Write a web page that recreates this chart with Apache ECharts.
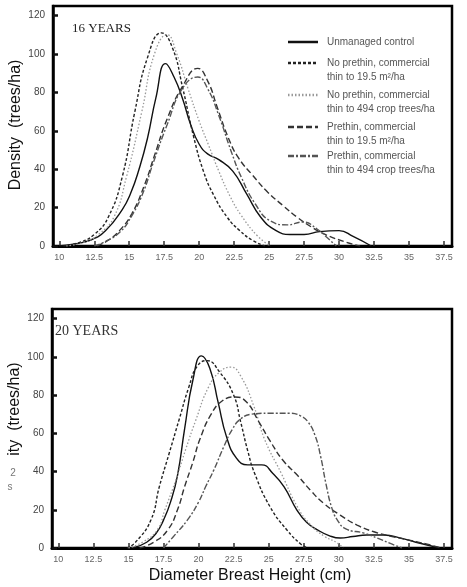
<!DOCTYPE html>
<html>
<head>
<meta charset="utf-8">
<script src="https://cdn.jsdelivr.net/npm/echarts@6/dist/echarts.min.js"></script>
<style>
  html, body { margin: 0; padding: 0; background: #fff; }
  #main { width: 467px; height: 587px; }
</style>
</head>
<body>
<div id="main"></div>
<script>
const seriesNames = [
  'Unmanaged control',
  'No prethin, commercial\nthin to 19.5 m²/ha',
  'No prethin, commercial\nthin to 494 crop trees/ha',
  'Prethin, commercial\nthin to 19.5 m²/ha',
  'Prethin, commercial\nthin to 494 crop trees/ha'
]
const xTicks = [10, 12.5, 15, 17.5, 20, 22.5, 25, 27.5, 30, 32.5, 35, 37.5]
const yTicks = [0, 20, 40, 60, 80, 100, 120]

// 16 years  [dbh, density]
const y16Control = [[10,0],[11,1],[12.2,3],[13.3,8],[14.5,19],[15.1,27.5],[15.7,40],[16.3,56],[16.9,77],[17.6,95],[18.2,88],[18.8,77],[19.4,63],[20,53],[20.6,48],[21.4,45],[22.4,39],[23.4,27],[24.4,15],[25.5,8],[26.5,6],[27.5,6],[28.6,7.5],[30,8],[31,5],[32.3,0]]
const y16NoPre195 = [[10.3,0],[11.5,2],[12.5,6],[13.5,15],[14.5,36],[15.4,70],[16.3,98],[17.3,111],[18.1,103],[18.8,83],[19.6,57],[20.3,39],[21,27],[22,15],[22.9,8],[23.8,3],[24.7,0]]
const y16NoPre494 = [[10.5,0],[11.8,2],[12.8,6],[13.9,15],[14.8,36],[15.9,70],[16.8,100],[17.7,110],[18.4,100],[19.2,82],[20,65],[20.7,52],[21.4,39],[22.2,26],[23,16],[24.2,5],[25.1,0]]
const y16Pre195 = [[12.7,0],[13.5,3],[14.3,8],[15.2,17],[16.1,32],[16.8,47],[17.7,66],[18.8,83],[19.9,92.5],[20.6,86],[21.3,72],[22.1,56],[22.8,46],[23.8,37],[24.9,28],[26,21],[27,15],[28,10],[29,6],[30.5,2],[31.5,0]]
const y16Pre494 = [[12.5,0],[13.2,2],[14.3,7],[15.2,16],[16,28],[16.7,43],[17.7,63],[18.8,82],[19.9,88],[20.6,82],[21.4,68],[22.3,49],[23,36],[24,22],[25.1,13],[26.3,11],[27.4,12.5],[28.4,9],[29.2,4],[29.8,0]]

// 20 years  [dbh, density]
const y20Control = [[15.3,0],[16.3,3],[17,8],[17.5,14.6],[18,24],[18.5,38],[19,62],[19.6,88],[20.2,100.5],[20.8,94],[21.4,76],[22,58],[22.7,47],[23.5,43.5],[24.5,43.5],[25.3,39],[26.1,32],[27,20],[27.7,13.5],[28.5,9.4],[29.3,6.5],[30.1,5.2],[31,6],[32,6.8],[33.2,6.8],[34.5,5],[35.5,3],[37.2,0]]
const y20NoPre195 = [[14.9,0],[15.5,3],[16.6,14.6],[17.2,32],[17.9,49.4],[18.6,66.8],[19.3,84],[19.9,95],[20.6,98],[21.5,92],[22.5,80],[23,66],[23.5,51],[24,39],[25.1,21.5],[26.3,9.4],[27.3,2],[27.8,0]]
const y20NoPre494 = [[15,0],[16,3],[17.05,9.4],[17.6,20],[18.4,36],[19.1,52],[19.8,66.8],[20.7,84],[21.5,92],[22.3,94.6],[23,90],[23.95,74],[24.7,57],[25.9,39],[27.05,21.5],[28,12],[29,6],[29.9,2.6],[30.3,0]]
const y20Pre195 = [[15.8,0],[16.8,3],[17.8,9.4],[18.5,20],[19,32],[19.6,45],[20.1,57],[20.9,70],[21.7,77],[22.6,79],[23.4,76.5],[24.3,66],[25.1,56],[26,46],[27.05,38],[28,30],[28.9,23.5],[30.1,17.2],[31.3,12],[32.5,8.5],[33.8,6],[35.1,4],[36.3,2],[37.3,0]]
const y20Pre494 = [[17.5,0],[18.2,5.9],[19.2,14.6],[20,24],[20.5,32],[21.1,41],[21.8,53],[22.4,62],[23,67.5],[23.8,70],[25,70.5],[26.5,70.5],[27.3,69],[27.8,66],[28.3,59],[28.7,48],[29.1,33],[29.5,21],[29.9,14.6],[30.5,10],[31.8,7.8],[32.8,5],[33.8,2],[34.5,0]]

const data16 = [y16Control, y16NoPre195, y16NoPre494, y16Pre195, y16Pre494]
const data20 = [y20Control, y20NoPre195, y20NoPre494, y20Pre195, y20Pre494]

const lineStyles = [
  { color: '#111', type: 'solid', width: 1.4 },
  { color: '#222', type: [3, 2], width: 1.4 },
  { color: '#999', type: [1.5, 2], width: 1.3 },
  { color: '#333', type: [6, 3], width: 1.4 },
  { color: '#555', type: [6, 2, 2, 2], width: 1.4 }
]
const legendY = [42, 63, 95, 127, 156]

function makeX (gridIndex) {
  return {
    type: 'value', gridIndex: gridIndex, min: 9.55, max: 38.07,
    axisLine: { show: true, lineStyle: { color: '#000', width: 3 } },
    axisTick: { inside: true, length: 5, customValues: xTicks, lineStyle: { color: '#333', width: 1.5 } },
    axisLabel: { customValues: xTicks, color: '#666', fontSize: 9, margin: 7, fontFamily: 'Liberation Sans' },
    splitLine: { show: false }
  }
}
function makeY (gridIndex) {
  return {
    type: 'value', gridIndex: gridIndex, min: 0, max: 125,
    axisLine: { show: true, lineStyle: { color: '#000', width: 2.5 } },
    axisTick: { inside: true, length: 5, customValues: yTicks, lineStyle: { color: '#111', width: 2.5 } },
    axisLabel: { customValues: yTicks, color: '#444', fontSize: 10, margin: 8, fontFamily: 'Liberation Sans' },
    splitLine: { show: false }
  }
}

const series = []
data16.forEach((d, i) => series.push({
  name: seriesNames[i], type: 'line', xAxisIndex: 0, yAxisIndex: 0,
  data: d, smooth: 0.5, symbol: 'none', lineStyle: lineStyles[i], color: lineStyles[i].color
}))
data20.forEach((d, i) => series.push({
  name: seriesNames[i], type: 'line', xAxisIndex: 1, yAxisIndex: 1,
  data: d, smooth: 0.5, symbol: 'none', lineStyle: lineStyles[i], color: lineStyles[i].color
}))

const legendGraphics = []
seriesNames.forEach((n, i) => {
  const s = lineStyles[i]
  legendGraphics.push({
    type: 'line', shape: { x1: 288, y1: legendY[i], x2: 318, y2: legendY[i] },
    style: { stroke: s.color, lineWidth: 2.5, lineDash: s.type === 'solid' ? null : s.type }
  })
  legendGraphics.push({
    type: 'text', x: 327, y: legendY[i] - 7,
    style: { text: n, fill: '#555', fontSize: 10, lineHeight: 14, fontFamily: 'Liberation Sans' }
  })
})

const option = {
  animation: false,
  grid: [
    { left: 53, top: 6, width: 399, height: 240, show: true, borderColor: '#000', borderWidth: 2.5 },
    { left: 52, top: 309, width: 400, height: 239, show: true, borderColor: '#000', borderWidth: 2.5 }
  ],
  xAxis: [makeX(0), makeX(1)],
  yAxis: [makeY(0), makeY(1)],
  series: series,
  graphic: legendGraphics.concat([
    { type: 'text', x: 72, y: 22, style: { text: '16 YEARS', fill: '#222', fontSize: 13, fontFamily: 'Liberation Serif' } },
    { type: 'text', x: 55, y: 324, style: { text: '20 YEARS', fill: '#333', fontSize: 14, fontFamily: 'Liberation Serif' } },
    { type: 'text', x: 16, y: 125, rotation: Math.PI / 2,
      style: { text: 'Density  (trees/ha)', fill: '#111', fontSize: 16, fontFamily: 'Liberation Sans', align: 'center', verticalAlign: 'middle' } },
    { type: 'text', x: 15, y: 409, rotation: Math.PI / 2,
      style: { text: 'ity  (trees/ha)', fill: '#111', fontSize: 16, fontFamily: 'Liberation Sans', align: 'center', verticalAlign: 'middle' } },
    { type: 'text', x: 13, y: 473, style: { text: '2', fill: '#777', fontSize: 10, fontFamily: 'Liberation Sans', align: 'center', verticalAlign: 'middle' } },
    { type: 'text', x: 10, y: 487, style: { text: 's', fill: '#777', fontSize: 10, fontFamily: 'Liberation Sans', align: 'center', verticalAlign: 'middle' } },
    { type: 'text', x: 250, y: 576, style: { text: 'Diameter Breast Height (cm)', fill: '#111', fontSize: 16, fontFamily: 'Liberation Sans', align: 'center', verticalAlign: 'middle' } }
  ])
}

const chart = echarts.init(document.getElementById('main'))
chart.setOption(option)
</script>
</body>
</html>
